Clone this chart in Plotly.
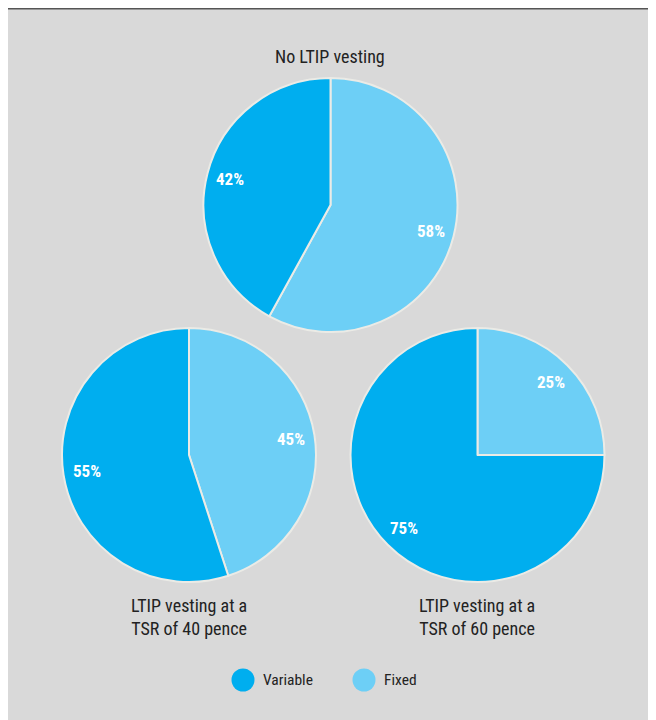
import math
import plotly.graph_objects as go

categories = ["Variable", "Fixed"]
colors = ["#00AEEF", "#6DCFF6"]
scenario_titles = ["No LTIP vesting", "LTIP vesting at a<br>TSR of 40 pence", "LTIP vesting at a<br>TSR of 60 pence"]
variable_pct = [42, 55, 75]
fixed_pct = [58, 45, 25]

W, H = 656, 720
FONT = "Roboto Condensed, Open Sans Condensed, sans-serif"
color_of = dict(zip(categories, colors))

# pie domains in pixels (x0, x1, ytop, ybottom)
doms = [(195, 450, 70, 324), (54, 308, 320, 574), (342, 597, 320, 574)]

fig = go.Figure()
annotations = []
for i in range(3):
    x0, x1, yt, yb = doms[i]
    # Fixed runs clockwise from 12 o'clock, Variable fills the rest (left side)
    labs = ["Fixed", "Variable"]
    vals = [fixed_pct[i], variable_pct[i]]
    fig.add_trace(go.Pie(
        labels=labs,
        values=vals,
        sort=False,
        direction="clockwise",
        rotation=0,
        marker=dict(colors=[color_of[l] for l in labs], line=dict(color="#ebebe6", width=2)),
        textinfo="none",
        domain=dict(x=[x0 / W, x1 / W], y=[1 - yb / H, 1 - yt / H]),
        showlegend=False,
        hoverinfo="label+percent",
    ))
    # percentage labels placed along each slice's mid-angle (clockwise from 12 o'clock)
    cx, cy = (x0 + x1) / 2, (yt + yb) / 2
    r = (x1 - x0) / 2 * 0.81
    total = sum(vals)
    start = 0.0
    for v in vals:
        mid = (start + v / 2) / total * 2 * math.pi
        start += v
        px = cx + r * math.sin(mid)
        py = cy - r * math.cos(mid)
        annotations.append(dict(x=px / W, y=1 - py / H, text="<b>%d%%</b>" % v,
                                font=dict(family=FONT, size=17, color="white")))

# custom legend with circular markers
fig.add_trace(go.Scatter(
    x=[235, 356], y=[672, 672],
    mode="markers",
    marker=dict(size=23, color=colors, line=dict(width=0)),
    showlegend=False, hoverinfo="skip",
    xaxis="x", yaxis="y",
))
for xt, c in zip([253, 374], categories):
    annotations.append(dict(x=xt / W, y=1 - 672 / H, text=c, xanchor="left",
                            font=dict(family=FONT, size=15.5, color="#222222")))

annotations += [
    dict(x=322 / W, y=1 - 49 / H, text=scenario_titles[0], font=dict(family=FONT, size=18, color="#222222")),
    dict(x=181 / W, y=1 - 609 / H, text=scenario_titles[1], font=dict(family=FONT, size=18, color="#222222")),
    dict(x=469 / W, y=1 - 609 / H, text=scenario_titles[2], font=dict(family=FONT, size=18, color="#222222")),
]
for a in annotations:
    a.update(xref="paper", yref="paper", showarrow=False, yanchor="middle")
    a.setdefault("xanchor", "center")

fig.update_layout(
    width=W, height=H,
    margin=dict(l=0, r=0, t=0, b=0),
    paper_bgcolor="#d9d9d9",
    plot_bgcolor="rgba(0,0,0,0)",
    xaxis=dict(range=[0, W], visible=False, fixedrange=True, domain=[0, 1]),
    yaxis=dict(range=[H, 0], visible=False, fixedrange=True, domain=[0, 1]),
    annotations=annotations,
    shapes=[
        dict(type="line", xref="paper", yref="paper", x0=0, x1=1, y0=1, y1=1,
             line=dict(color="#555555", width=3), layer="above"),
    ],
)

fig.write_html("out.html")
